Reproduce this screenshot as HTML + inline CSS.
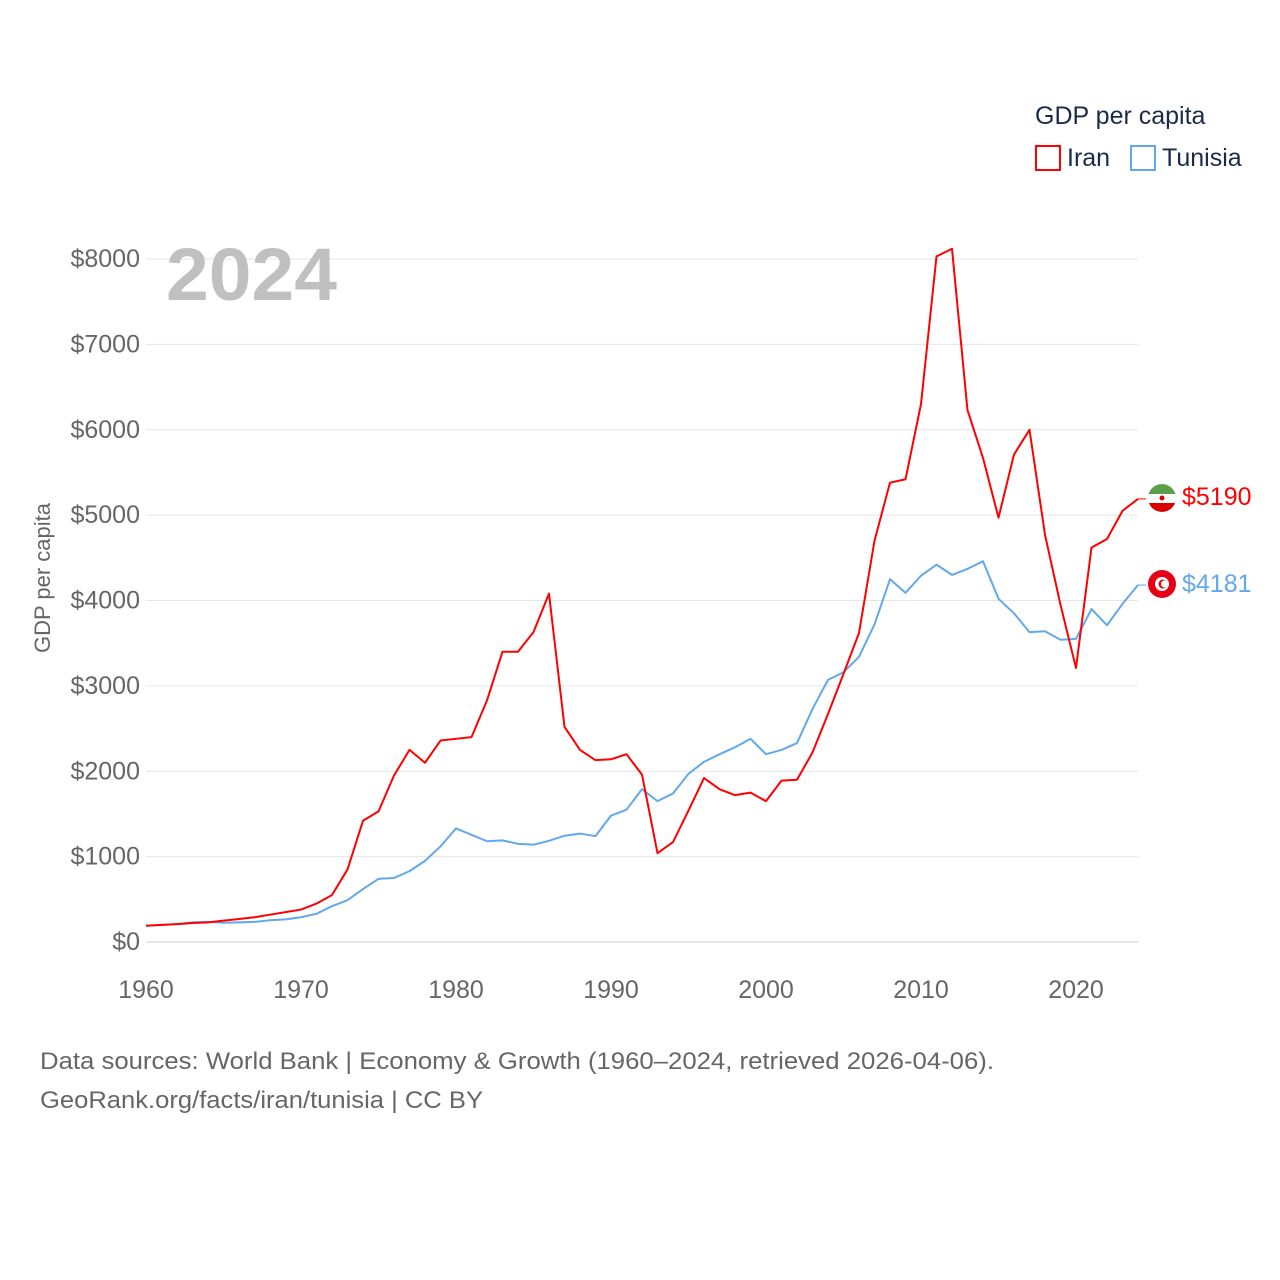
<!DOCTYPE html>
<html><head><meta charset="utf-8"><style>
html,body{margin:0;padding:0;background:#fff;}
svg{display:block;font-family:"Liberation Sans",sans-serif;}
</style></head><body>
<svg id="chart" width="1280" height="1280" viewBox="0 0 1280 1280">
<g id="grid"></g>
<g id="yticks"></g>
<g id="xticks"></g>
<text x="166" y="300" font-size="74" font-weight="bold" fill="#c0c0c0" textLength="171" lengthAdjust="spacingAndGlyphs">2024</text>
<text transform="translate(50,578) rotate(-90)" text-anchor="middle" font-size="22" fill="#666">GDP per capita</text>
<g id="lines"></g>
<g>
<text x="1035" y="124" font-size="25" fill="#1a2b4a">GDP per capita</text>
<g><rect x="1036" y="146" width="24" height="24" fill="none" stroke="#ff0000" stroke-width="2"/><text x="1067" y="166" font-size="25" fill="#1a2b4a">Iran</text></g>
<g><rect x="1131" y="146" width="24" height="24" fill="none" stroke="#62a8ea" stroke-width="2"/><text x="1162" y="166" font-size="25" fill="#1a2b4a">Tunisia</text></g>
</g>
<g>
<clipPath id="c1"><circle cx="1162" cy="498" r="14"/></clipPath>
<g clip-path="url(#c1)"><rect x="1148" y="484" width="28" height="10" fill="#5aa04a"/><rect x="1148" y="494" width="28" height="9" fill="#fff"/><rect x="1148" y="503" width="28" height="10" fill="#da0000"/></g>
<circle cx="1162" cy="498" r="2.5" fill="#da0000"/>
</g>
<g>
<circle cx="1162" cy="584" r="14" fill="#e70013"/><circle cx="1162" cy="584" r="7" fill="#fff"/><circle cx="1163" cy="584" r="4.5" fill="#e70013"/><circle cx="1164.5" cy="584" r="3.6" fill="#fff"/>
</g>
<text x="1182" y="505" font-size="25" fill="#ff0000">$5190</text>
<text x="1182" y="592" font-size="25" fill="#62a8ea">$4181</text>
<text x="40" y="1069" font-size="24" fill="#666" textLength="954" lengthAdjust="spacingAndGlyphs">Data sources: World Bank | Economy &amp; Growth (1960–2024, retrieved 2026-04-06).</text>
<text x="40" y="1108" font-size="24" fill="#666" textLength="443" lengthAdjust="spacingAndGlyphs">GeoRank.org/facts/iran/tunisia | CC BY</text>
</svg>
<script>
const years = Array.from({length:65},(_,i)=>1960+i);
const iran = [190,200,210,223,230,250,270,290,320,350,380,450,550,850,1420,1530,1950,2250,2100,2360,2380,2400,2830,3400,3400,3630,4080,2520,2250,2130,2140,2200,1960,1040,1170,1540,1920,1790,1720,1750,1650,1890,1900,2220,2670,3140,3620,4700,5380,5420,6300,8030,8120,6230,5670,4970,5710,6000,4770,3950,3210,4620,4720,5050,5190];
const tunisia = [190,200,210,230,235,225,230,235,255,265,290,330,420,490,620,740,750,830,950,1120,1330,1255,1180,1190,1150,1140,1185,1245,1270,1240,1480,1550,1790,1650,1740,1970,2110,2200,2280,2380,2200,2250,2330,2730,3070,3160,3340,3720,4250,4090,4290,4420,4300,4370,4460,4020,3850,3630,3640,3540,3550,3900,3710,3960,4181];
const yTicks = [0,1000,2000,3000,4000,5000,6000,7000,8000];
const xTicks = [1960,1970,1980,1990,2000,2010,2020];
const X = y => 146 + (y-1960)*15.5;
const Y = v => 942 - v*0.085375;
const NS="http://www.w3.org/2000/svg";
const grid=document.getElementById('grid'), yt=document.getElementById('yticks'), xt=document.getElementById('xticks'), lines=document.getElementById('lines');
yTicks.forEach(v=>{
  const l=document.createElementNS(NS,'line');
  l.setAttribute('x1',146);l.setAttribute('x2',1138);l.setAttribute('y1',Y(v));l.setAttribute('y2',Y(v));
  l.setAttribute('stroke',v===0?'#ccc':'#e6e6e6');l.setAttribute('stroke-width',1);
  
  
  grid.appendChild(l);
  const t=document.createElementNS(NS,'text');
  t.setAttribute('x',140);t.setAttribute('y',Y(v)+8);t.setAttribute('text-anchor','end');
  t.setAttribute('font-size',25);t.setAttribute('fill','#666');t.textContent='$'+v;
  
  
  yt.appendChild(t);
});
xTicks.forEach(y=>{
  const t=document.createElementNS(NS,'text');
  t.setAttribute('x',X(y));t.setAttribute('y',998);t.setAttribute('text-anchor','middle');
  t.setAttribute('font-size',25);t.setAttribute('fill','#666');t.textContent=y;
  
  
  xt.appendChild(t);
});
function line(vals,color,name){
  const p=document.createElementNS(NS,'polyline');
  p.setAttribute('points',vals.map((v,i)=>X(years[i])+','+Y(v)).join(' '));
  p.setAttribute('fill','none');p.setAttribute('stroke',color);p.setAttribute('stroke-width',2);
  p.setAttribute('stroke-linejoin','round');
  
  
  lines.appendChild(p);
  const n=vals.length-1;
  const c=document.createElementNS(NS,'line');
  c.setAttribute('x1',X(years[n]));c.setAttribute('x2',X(years[n])+8);c.setAttribute('y1',Y(vals[n]));c.setAttribute('y2',Y(vals[n]));
  c.setAttribute('stroke',color);c.setAttribute('stroke-width',1);
  
  
  lines.appendChild(c);
}
line(tunisia,'#62a8ea','tunisia-line');
line(iran,'#ff0000','iran-line');
</script>
</body></html>
